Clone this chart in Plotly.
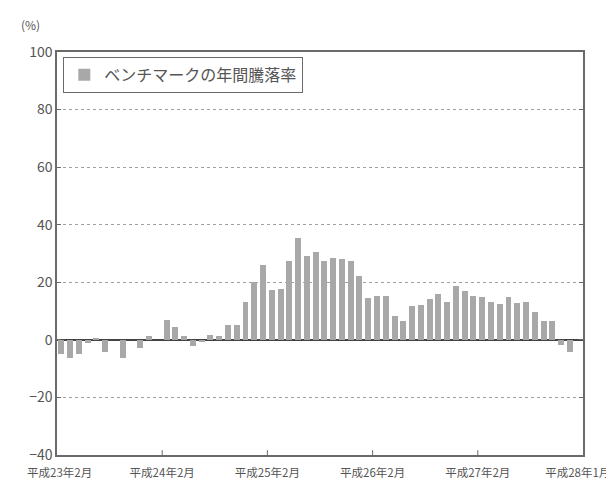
import plotly.graph_objects as go

# Months: 平成23年2月 (Feb 2011) .. 平成28年1月 (Jan 2016)
months = []
for k in range(60):
    y = 2011 + (1 + k) // 12
    m = (1 + k) % 12 + 1
    months.append(f"{y}-{m:02d}")

values = [
    -5.0, -6.3, -5.0, -1.0, 0.8, -4.2, 0.0, -6.2, 0.0, -3.0,
    1.2, 0.0, 6.8, 4.3, 1.3, -2.0, -0.8, 1.6, 1.3, 5.1,
    5.2, 13.0, 20.1, 26.0, 17.3, 17.6, 27.3, 35.5, 29.0, 30.4,
    27.5, 28.6, 28.2, 27.3, 22.3, 14.5, 15.1, 15.2, 8.2, 6.5,
    11.6, 12.1, 14.1, 15.8, 13.2, 18.6, 16.9, 15.4, 14.9, 13.0,
    12.3, 14.8, 12.8, 13.0, 9.7, 6.5, 6.5, -1.8, -4.3, None,
]

tick_positions = [0.3, 12, 24, 36, 48, 59.4]
tick_labels = ["平成23年2月", "平成24年2月", "平成25年2月", "平成26年2月", "平成27年2月", "平成28年1月"]
y_ticks = [-40, -20, 0, 20, 40, 60, 80, 100]
series_name = "ベンチマークの年間騰落率"

x_pos = [months.index(m) + 0.5 for m in months]

font_family = "Noto Sans CJK JP, Noto Sans, sans-serif"
txt = "#555555"
axc = "#6a6a6a"

fig = go.Figure()
fig.add_trace(go.Bar(
    x=x_pos, y=values, name=series_name, width=0.68,
    marker=dict(color="#a8a8a8", line=dict(width=0)),
    customdata=months, hovertemplate="%{customdata}: %{y}%<extra></extra>",
))

fig.update_layout(
    width=614, height=484,
    margin=dict(l=49, r=38, t=44, b=29),
    paper_bgcolor="white", plot_bgcolor="white",
    font=dict(family=font_family, color=txt),
    bargap=0,
    showlegend=True,
    legend=dict(
        x=0.012, y=0.988, xanchor="left", yanchor="top",
        bgcolor="white", bordercolor=axc, borderwidth=1,
        font=dict(size=16, color=txt, family=font_family),
    ),
    xaxis=dict(
        range=[0, 60], tickmode="array", tickvals=tick_positions, ticktext=tick_labels,
        ticks="", showline=True, linecolor=axc, linewidth=1.5, mirror=True,
        showgrid=False, zeroline=False, ticklabelstandoff=6,
        tickfont=dict(size=11.5, color=txt), fixedrange=True,
    ),
    yaxis=dict(
        range=[-40, 100], tickmode="array", tickvals=y_ticks,
        ticks="inside", ticklen=4, tickcolor=axc,
        showline=True, linecolor=axc, linewidth=1.5, mirror="ticks",
        showgrid=True, gridcolor="#a0a0a0", gridwidth=1, griddash="dot",
        zeroline=True, zerolinecolor="#444444", zerolinewidth=1.5,
        tickfont=dict(size=14, color=txt), fixedrange=True,
    ),
    shapes=[
        dict(type="line", xref="x", yref="paper", x0=v, x1=v, y0=0, y1=0.012,
             line=dict(color=axc, width=1))
        for v in tick_positions[1:-1]
    ],
    annotations=[dict(
        text="(%)", xref="paper", yref="paper", x=-0.05, y=1.068,
        xanchor="center", yanchor="middle", showarrow=False,
        font=dict(size=12, color=txt, family=font_family),
    )],
)

fig.write_html("out.html")
